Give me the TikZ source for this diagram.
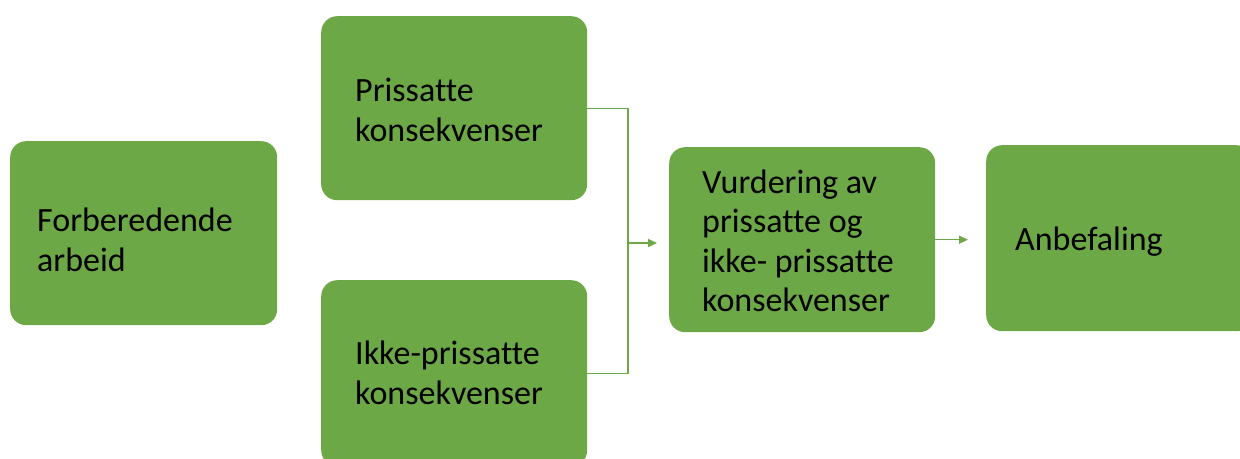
\documentclass[tikz,border=0pt]{standalone}
\usepackage{fontspec}
\setmainfont{Carlito}[Ligatures=NoCommon]
\usetikzlibrary{arrows.meta,calc}
\definecolor{boxgreen}{HTML}{6CA845}
\begin{document}
\begin{tikzpicture}[x=1pt,y=-1pt,
  gbox/.style={fill=boxgreen, draw=none, rounded corners=16pt, anchor=north west, inner sep=0pt},
  gtext/.style={anchor=west, align=left, inner sep=0pt, text=black, font=\fontsize{34}{40}\selectfont},
  conn/.style={draw=boxgreen, line width=1.4pt},
  arr/.style={conn, -{Triangle[length=9pt,width=8pt]}}]
\useasboundingbox (0,0) rectangle (1240,458);
\node[gbox, minimum width=267pt, minimum height=184pt] (b1) at (10,141) {};
\node[gbox, minimum width=266pt, minimum height=184pt] (b2) at (321,16) {};
\node[gbox, minimum width=266pt, minimum height=186pt] (b3) at (321,280) {};
\node[gbox, minimum width=266pt, minimum height=185pt] (b4) at (669,147) {};
\node[gbox, minimum width=266pt, minimum height=186pt] (b5) at (986,145) {};
\node[gtext] (t1) at ($(b1.west)+(27,7)$) {Forberedende\\arbeid};
\node[gtext] (t2) at ($(b2.west)+(34,2)$) {Prissatte\\konsekvenser};
\node[gtext] (t3) at ($(b3.west)+(34,0)$) {Ikke-prissatte\\konsekvenser};
\node[gtext, font=\fontsize{34}{39.5}\selectfont] (t4) at ($(b4.west)+(33,1)$) {Vurdering av\\prissatte og\\ikke- prissatte\\konsekvenser};
\node[gtext] (t5) at ($(b5.west)+(29,3.5)$) {Anbefaling};
\coordinate (j) at (628,243);
\draw[conn] (b2.east) -| (j) |- (b3.east);
\draw[arr, shorten >=12pt] (j) -- (j -| b4.west);
\draw[arr, shorten >=18pt] (b4.east) -- (b4.east -| b5.west);
\end{tikzpicture}
\end{document}
